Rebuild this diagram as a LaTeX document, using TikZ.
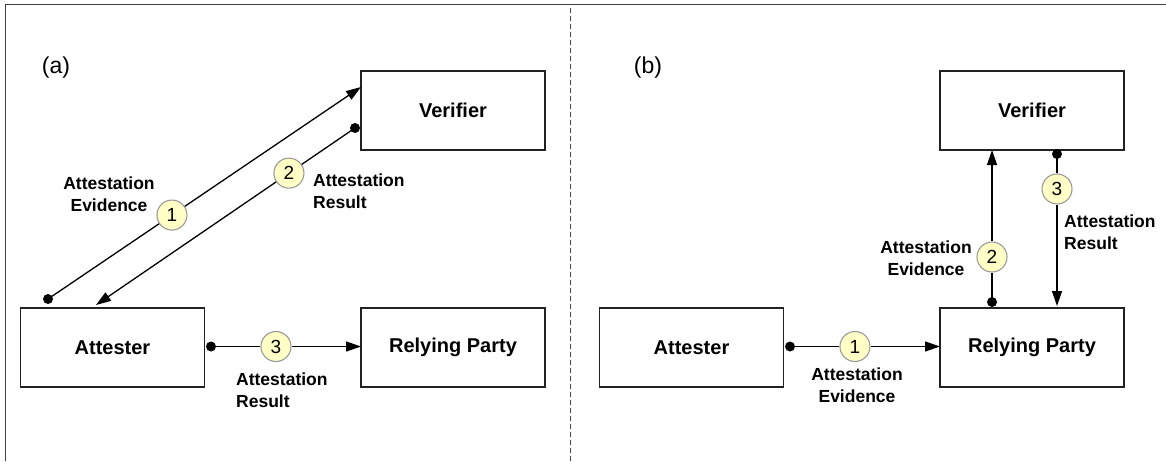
\documentclass[tikz,border=0pt]{standalone}
\usepackage{fontspec}
\setmainfont{Liberation Sans}
\usetikzlibrary{arrows.meta}
\definecolor{numfill}{HTML}{FFFFC6}
\definecolor{numline}{HTML}{9A9A9A}
\definecolor{boxline}{HTML}{222222}
\tikzset{
  entity/.style={draw=boxline, line width=1.5pt, minimum width=184pt, minimum height=79pt,
    inner sep=0pt, font=\fontsize{20}{24}\selectfont\bfseries},
  numcircle/.style={circle, draw=numline, line width=1.1pt, fill=numfill, minimum size=30pt,
    inner sep=0pt, font=\fontsize{19}{22}\selectfont},
  enddot/.style={circle, fill=black, minimum size=10pt, inner sep=0pt},
  flow/.style={line width=1.3pt, -{Triangle[length=15pt,width=10pt]}},
  flowlabel/.style={inner sep=0pt, font=\fontsize{17.5}{22}\selectfont\bfseries},
  panel/.style={inner sep=0pt, font=\fontsize{23}{26}\selectfont},
  frame/.style={draw=black!75, line width=0.8pt},
  divider/.style={draw=black!75, line width=1pt, dash pattern=on 5pt off 3pt}
}
\begin{document}
\begin{tikzpicture}[x=1pt,y=-1pt]
\useasboundingbox (0,0) rectangle (1166,461);
% outer frame (only top and left edges visible)
\draw[frame] (5,461) -- (5,4) -- (1166,4);
% divider
\draw[divider] (570,8) -- (570,461);

% panel labels
\node[panel] (pa) at (56,68) {(a)};
\node[panel] (pb) at (648,68) {(b)};

% ---------- panel (a) ----------
\node[entity] (vA) at (453,110.5) {Verifier};
\node[entity] (aA) at (112.5,347.5) {Attester};
\node[entity] (rA) at (453,347.5) {Relying Party};

% flow 1 (a)
\node[enddot] (d1a) at (48,299) {};
\coordinate (t1a) at (361,87);
\path (d1a.center) -- (t1a) node[numcircle, pos=0.396] (n1a) {1};
\draw[flow] (d1a.center) -- (n1a) -- (t1a);
\node[flowlabel, align=center] (l1a) at (109,194) {Attestation\\Evidence};

% flow 2 (a)
\node[enddot] (d2a) at (355,128) {};
\coordinate (t2a) at (96,305);
\path (d2a.center) -- (t2a) node[numcircle, pos=0.255] (n2a) {2};
\draw[flow] (d2a.center) -- (n2a) -- (t2a);
\node[flowlabel, align=left, anchor=west] (l2a) at (313,191) {Attestation\\Result};

% flow 3 (a)
\node[enddot] (d3a) at (211,346.5) {};
\coordinate (t3a) at (361,346.5);
\path (d3a.center) -- (t3a) node[numcircle, pos=0.433] (n3a) {3};
\draw[flow] (d3a.center) -- (n3a) -- (t3a);
\node[flowlabel, align=left, anchor=west] (l3a) at (236,390) {Attestation\\Result};

% ---------- panel (b) ----------
\node[entity] (vB) at (1032,110.5) {Verifier};
\node[entity] (aB) at (691.5,347.5) {Attester};
\node[entity] (rB) at (1032,347.5) {Relying Party};

% flow 1 (b)
\node[enddot] (d1b) at (790,346.5) {};
\coordinate (t1b) at (940,346.5);
\path (d1b.center) -- (t1b) node[numcircle, pos=0.433] (n1b) {1};
\draw[flow] (d1b.center) -- (n1b) -- (t1b);
\node[flowlabel, align=center] (l1b) at (857,385.5) {Attestation\\Evidence};

% flow 2 (b)
\node[enddot] (d2b) at (992,302) {};
\coordinate (t2b) at (992,150);
\path (d2b.center) -- (t2b) node[numcircle, pos=0.296] (n2b) {2};
\draw[flow] (d2b.center) -- (n2b) -- (t2b);
\node[flowlabel, align=center] (l2b) at (926,258.5) {Attestation\\Evidence};

% flow 3 (b)
\node[enddot] (d3b) at (1057,154) {};
\coordinate (t3b) at (1057,306);
\path (d3b.center) -- (t3b) node[numcircle, pos=0.23] (n3b) {3};
\draw[flow] (d3b.center) -- (n3b) -- (t3b);
\node[flowlabel, align=left, anchor=west] (l3b) at (1064,232) {Attestation\\Result};
\end{tikzpicture}
\end{document}
